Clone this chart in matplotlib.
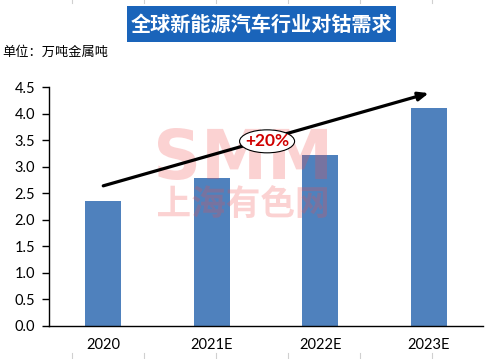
import matplotlib
matplotlib.use("Agg")
import matplotlib.pyplot as plt
from matplotlib.patches import Ellipse, Rectangle, PathPatch
from matplotlib.lines import Line2D
from matplotlib.textpath import TextPath
from matplotlib.font_manager import FontProperties
from matplotlib.transforms import Affine2D

categories = ["2020", "2021E", "2022E", "2023E"]
values = [2.35, 2.79, 3.22, 4.11]
yticks = [0.0, 0.5, 1.0, 1.5, 2.0, 2.5, 3.0, 3.5, 4.0, 4.5]
title = "全球新能源汽车行业对钴需求"
unit = "单位：万吨金属吨"
growth_label = "+20%"
arrow_start = (0.0, 2.64)
arrow_end = (3.0, 4.39)
watermark_en = "SMM"
watermark_cn = "上海有色网"

W, H = 497, 359
fig = plt.figure(figsize=(W / 100, H / 100), dpi=100)
cjk = ["Noto Sans CJK SC", "DejaVu Sans"]
num_font = ["Lato", "DejaVu Sans"]

left, right, top, bottom = 49, 483, 87.3, 325.7
ax = fig.add_axes([left / W, 1 - bottom / H, (right - left) / W, (bottom - top) / H])

x = list(range(len(categories)))
ax.bar(x, values, width=0.335, color="#4F81BD", zorder=2)
ax.set_xlim(-0.5, 3.5)
ax.set_ylim(0, 4.5)
ax.set_yticks(yticks)
ax.set_yticklabels([f"{v:.1f}" for v in yticks], fontsize=10.5, family=num_font)
ax.set_xticks(x)
ax.set_xticklabels(categories, fontsize=10.5, family=num_font)
ax.tick_params(axis="x", length=0, pad=9)
ax.tick_params(axis="y", length=5, width=1, direction="out", pad=5)
for s in ["top", "right"]:
    ax.spines[s].set_visible(False)
ax.spines["left"].set_linewidth(1)
ax.spines["bottom"].set_linewidth(1)


def fitted_text(s, family, box, weight="bold"):
    """box = (x0, y0_top, x1, y1_bottom) in pixels from top-left."""
    tp = TextPath((0, 0), s, size=50, prop=FontProperties(family=family, weight=weight))
    ext = tp.get_extents()
    x0, yt, x1, yb = box
    sx = (x1 - x0) / ext.width
    sy = (yb - yt) / ext.height
    tr = (Affine2D().translate(-ext.x0, -ext.y0).scale(sx, sy)
          .translate(x0, H - yb).scale(1 / W, 1 / H))
    path = tr.transform_path(tp)
    patch = PathPatch(path, transform=fig.transFigure, facecolor=(0.95, 0.3, 0.3),
                      edgecolor="none", alpha=0.25, zorder=4, clip_on=False)
    ax.add_patch(patch)


fitted_text(watermark_en, "DejaVu Sans", (158, 128, 327, 180))
fitted_text(watermark_cn, "Noto Sans CJK SC", (158, 185, 327, 218))

# arrow
ax.annotate("", xy=arrow_end, xytext=arrow_start,
            arrowprops=dict(arrowstyle="-|>,head_length=0.6,head_width=0.25", color="black",
                            lw=2.3, shrinkA=0, shrinkB=0), zorder=6)
ell = Ellipse((1.51, 3.48), 0.507, 0.434, facecolor="white", edgecolor="black", lw=0.8, zorder=7)
ax.add_patch(ell)
ax.text(1.51, 3.48, growth_label, color="#D00000", fontsize=12.5, fontweight="bold",
        family=num_font, ha="center", va="center", zorder=8)

# title box
fig.patches.append(Rectangle((127 / W, 1 - 42 / H), (396 - 127) / W, 36 / H,
                             transform=fig.transFigure, facecolor="#1A64BA", edgecolor="none"))
fig.text(261.5 / W, 1 - 24.5 / H, title, fontsize=14.5, fontweight="bold", family=cjk,
         color="white", ha="center", va="center")
fig.text(2 / W, 1 - 52 / H, unit, fontsize=9.5, family=cjk, color="black",
         ha="left", va="center")

# spreadsheet cell-border ticks
for px in [72, 144, 216, 288, 360, 432]:
    fig.lines.append(Line2D([px / W, px / W], [1, 1 - 3 / H], transform=fig.transFigure,
                            color="#D0D0D0", lw=0.8))
    fig.lines.append(Line2D([px / W, px / W], [0, 6 / H], transform=fig.transFigure,
                            color="#D0D0D0", lw=0.8))

fig.savefig("out.png", dpi=100)
